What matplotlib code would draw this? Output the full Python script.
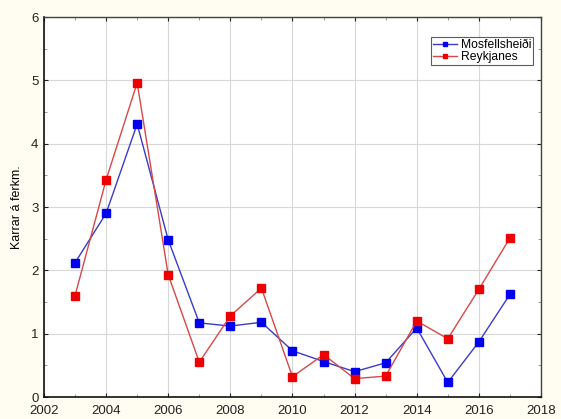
import matplotlib
matplotlib.use("Agg")
import matplotlib.pyplot as plt
from matplotlib.ticker import MultipleLocator

plt.rcParams['font.family'] = ['Liberation Sans', 'DejaVu Sans']

years = [2003, 2004, 2005, 2006, 2007, 2008, 2009, 2010,
         2011, 2012, 2013, 2014, 2015, 2016, 2017]
mosfellsheidi = [2.12, 2.90, 4.31, 2.48, 1.17, 1.12, 1.18, 0.73,
                 0.56, 0.40, 0.54, 1.09, 0.23, 0.87, 1.62]
reykjanes = [1.60, 3.43, 4.96, 1.93, 0.55, 1.28, 1.72, 0.32,
             0.67, 0.29, 0.33, 1.20, 0.92, 1.70, 2.51]

bg = '#fffdf1'
fig = plt.figure(figsize=(5.61, 4.19), dpi=100, facecolor=bg)
ax = fig.add_axes([0.0784, 0.0525, 0.8859, 0.9069])
ax.set_facecolor('white')

ax.plot(years, mosfellsheidi, color='#3b3bc8', lw=1.0, marker='s', ms=5.2,
        mfc='#0000ee', mec='#0000ee', label='Mosfellsheiði', zorder=3)
ax.plot(years, reykjanes, color='#d84848', lw=1.0, marker='s', ms=5.2,
        mfc='#ee0000', mec='#ee0000', label='Reykjanes', zorder=3)

ax.set_xlim(2002, 2018)
ax.set_ylim(0, 6)
ax.xaxis.set_major_locator(MultipleLocator(2))
ax.xaxis.set_minor_locator(MultipleLocator(1))
ax.yaxis.set_major_locator(MultipleLocator(1))
ax.yaxis.set_minor_locator(MultipleLocator(0.5))
ax.grid(True, which='major', color='#d8d8d8', lw=0.8, zorder=0)
ax.set_axisbelow(True)

ax.tick_params(which='both', direction='in', top=True, right=True,
               labelsize=9.5, colors='#222222', pad=4)
ax.tick_params(axis='x', which='major', pad=5.5)
ax.tick_params(which='major', length=3, width=0.8)
ax.tick_params(which='minor', length=2, width=0.6, color='#888888')

for side in ['left', 'bottom']:
    ax.spines[side].set_color('#111111')
    ax.spines[side].set_linewidth(1.2)
for side in ['top', 'right']:
    ax.spines[side].set_color('#444444')
    ax.spines[side].set_linewidth(1.0)

ax.set_ylabel('Karrar á ferkm.', fontsize=9, labelpad=6)

leg = ax.legend(loc='upper right', bbox_to_anchor=(0.984, 0.947), fontsize=8.7,
                frameon=True, fancybox=False, edgecolor='#333333',
                handlelength=2.0, handletextpad=0.3, borderpad=0.15,
                labelspacing=0.0, borderaxespad=0, markerscale=0.55)
leg.get_frame().set_linewidth(0.8)

fig.savefig('out.png', dpi=100, facecolor=bg)
